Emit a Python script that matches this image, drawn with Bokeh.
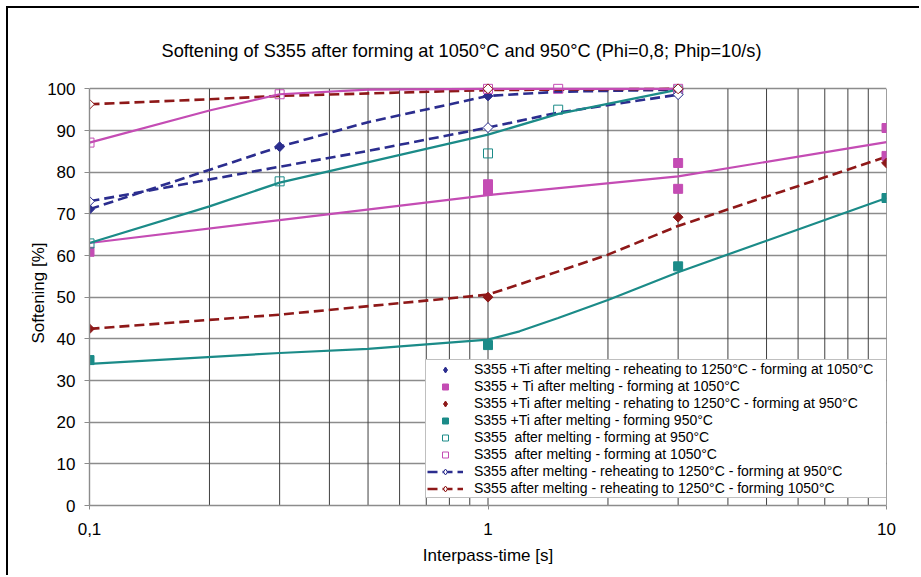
import math
from bokeh.plotting import figure
from bokeh.models import FixedTicker, Legend, LegendItem, Range1d, Title
from bokeh.embed import file_html
from bokeh.resources import INLINE

FONT = "Liberation Sans"

# ---------------- texts & ticks ----------------
title_text = "Softening of S355 after forming at 1050°C and 950°C (Phi=0,8; Phip=10/s)"
x_label = "Interpass-time [s]"
y_label = "Softening [%]"

x_major_ticks = [0.1, 1, 10]
x_major_labels = ["0,1", "1", "10"]
x_minor_ticks = [0.2, 0.3, 0.4, 0.5, 0.6, 0.7, 0.8, 0.9, 2, 3, 4, 5, 6, 7, 8, 9]
y_ticks = [0, 10, 20, 30, 40, 50, 60, 70, 80, 90, 100]

legend_labels = [
    "S355 +Ti after melting - reheating to 1250°C - forming at 1050°C",
    "S355 + Ti after melting - forming at 1050°C",
    "S355 +Ti after melting - rehating to 1250°C - forming at 950°C",
    "S355 +Ti after melting - forming 950°C",
    "S355  after melting - forming at 950°C",
    "S355  after melting - forming at 1050°C",
    "S355 after melting - reheating to 1250°C - forming at 950°C",
    "S355 after melting - reheating to 1250°C - forming 1050°C",
]

# ---------------- measured points ----------------
ti_reheat_1050_x = [0.1, 0.3, 1, 3]
ti_reheat_1050_y = [71.1, 86.1, 98.3, 99.8]
ti_1050_x = [0.1, 1, 1, 3, 3, 10, 10]
ti_1050_y = [60.9, 77.1, 75.6, 82.2, 76.0, 90.6, 83.9]
ti_reheat_950_x = [0.1, 1, 3, 10]
ti_reheat_950_y = [42.4, 50.0, 69.2, 82.2]
ti_950_x = [0.1, 1, 3, 10]
ti_950_y = [34.9, 38.5, 57.4, 73.8]
s_950_x = [0.1, 0.3, 1, 1.5, 3]
s_950_y = [62.9, 77.8, 84.5, 95.0, 99.6]
s_1050_x = [0.1, 0.3, 1, 1.5, 3]
s_1050_y = [87.1, 98.7, 100, 100, 100]
s_reheat_950_x = [0.1, 1, 3]
s_reheat_950_y = [73.0, 90.7, 98.6]
s_reheat_1050_x = [0.1, 1, 3]
s_reheat_1050_y = [96.3, 100, 100]

# ---------------- curves ----------------
c_ti_reheat_1050_x = [0.1, 0.3, 0.5, 1, 1.5, 3]
c_ti_reheat_1050_y = [71.1, 86.1, 92.0, 98.3, 99.3, 99.8]
c_ti_1050_x = [0.1, 0.3, 1, 3, 10]
c_ti_1050_y = [63.0, 68.5, 74.5, 79.0, 87.2]
c_ti_reheat_950_x = [0.1, 0.3, 1, 1.4, 2, 3, 10]
c_ti_reheat_950_y = [42.4, 45.8, 50.6, 55.2, 60.2, 67.1, 83.7]
c_ti_950_x = [0.1, 0.3, 0.5, 1, 1.2, 1.5, 2, 3, 10]
c_ti_950_y = [34.0, 36.6, 37.6, 39.8, 41.8, 45.0, 49.3, 56.0, 73.8]
c_s_950_x = [0.1, 0.2, 0.3, 1, 1.5, 3]
c_s_950_y = [63.0, 71.8, 77.5, 89.0, 94.0, 99.8]
c_s_1050_x = [0.1, 0.2, 0.3, 0.5, 1, 1.5, 3]
c_s_1050_y = [87.1, 94.8, 98.7, 99.8, 100, 100, 100]
c_s_reheat_950_x = [0.1, 0.3, 0.5, 1, 1.5, 3]
c_s_reheat_950_y = [73.0, 81.3, 85.1, 90.7, 94.3, 98.6]
c_s_reheat_1050_x = [0.1, 0.2, 0.3, 1, 3]
c_s_reheat_1050_y = [96.3, 97.5, 98.3, 99.7, 100]

NAVY = "#2b2d8e"
PINK = "#c44cb4"
TEAL = "#1b8b88"
RED = "#8e1818"
DIAMOND = math.pi / 4

p = figure(width=913, height=569, x_axis_type="log",
           x_range=Range1d(0.1, 10), y_range=Range1d(0, 102),
           output_backend="svg", toolbar_location=None,
           min_border_left=81, min_border_right=35,
           min_border_top=72, min_border_bottom=72)
p.styles = {"margin-left": "8px", "margin-top": "8px", "box-shadow": "-2px -2px 0 0 #000"}
p.background_fill_color = "white"
p.border_fill_color = "white"
p.outline_line_color = None

p.title = Title(text=title_text, align="left", offset=72, standoff=40,
                text_font=FONT, text_font_size="18.2px", text_font_style="normal",
                text_color="black")

# grid
p.xgrid.grid_line_color = None
p.ygrid.ticker = FixedTicker(ticks=y_ticks)
p.ygrid.grid_line_color = "#8c8c8c"
p.ygrid.grid_line_width = 1.4
grid_x = x_minor_ticks + x_major_ticks[1:]
p.segment(x0=grid_x, y0=[y_ticks[0]] * len(grid_x), x1=grid_x, y1=[y_ticks[-1]] * len(grid_x),
          line_color="#404040", line_width=1)

# axes
p.xaxis.ticker = FixedTicker(ticks=x_major_ticks, minor_ticks=[])
p.xaxis.major_label_overrides = dict(zip(x_major_ticks, x_major_labels))
p.yaxis.ticker = FixedTicker(ticks=y_ticks, minor_ticks=[])
p.yaxis.bounds = (y_ticks[0], y_ticks[-1])
for ax in (p.xaxis[0], p.yaxis[0]):
    ax.axis_line_color = "#8c8c8c"
    ax.axis_line_width = 1.4
    ax.major_tick_line_color = "#8c8c8c"
    ax.major_tick_in = 0
    ax.minor_tick_out = 0
    ax.minor_tick_in = 0
    ax.major_label_text_font = FONT
    ax.major_label_text_font_size = "17px"
    ax.major_label_text_color = "black"
    ax.axis_label_text_font = FONT
    ax.axis_label_text_font_size = "17px"
    ax.axis_label_text_font_style = "normal"
    ax.axis_label_text_color = "black"
p.xaxis.major_tick_out = 4
p.xaxis.major_label_standoff = 13
p.xaxis.axis_label = x_label
p.xaxis.axis_label_standoff = 8
p.yaxis.major_tick_out = 5
p.yaxis.major_label_standoff = 9
p.yaxis.axis_label = y_label
p.yaxis.axis_label_standoff = -4

# curves
l_ti_reheat_1050 = p.line(c_ti_reheat_1050_x, c_ti_reheat_1050_y, line_color=NAVY, line_width=2.6, line_dash="10 5")
l_s_reheat_950 = p.line(c_s_reheat_950_x, c_s_reheat_950_y, line_color=NAVY, line_width=2.6, line_dash="10 5")
l_s_reheat_1050 = p.line(c_s_reheat_1050_x, c_s_reheat_1050_y, line_color=RED, line_width=2.6, line_dash="10 5")
l_ti_reheat_950 = p.line(c_ti_reheat_950_x, c_ti_reheat_950_y, line_color=RED, line_width=2.6, line_dash="10 5")
p.line(c_ti_1050_x, c_ti_1050_y, line_color=PINK, line_width=2.2)
p.line(c_s_1050_x, c_s_1050_y, line_color=PINK, line_width=2.2)
p.line(c_s_950_x, c_s_950_y, line_color=TEAL, line_width=2.2)
p.line(c_ti_950_x, c_ti_950_y, line_color=TEAL, line_width=2.2)

# markers
m1 = p.scatter(ti_reheat_1050_x, ti_reheat_1050_y, marker="square", angle=DIAMOND, size=7,
               fill_color=NAVY, line_color=NAVY)
m2 = p.scatter(ti_1050_x, ti_1050_y, marker="square", size=9, fill_color=PINK, line_color=PINK)
m3 = p.scatter(ti_reheat_950_x, ti_reheat_950_y, marker="square", angle=DIAMOND, size=7,
               fill_color=RED, line_color=RED)
m4 = p.scatter(ti_950_x, ti_950_y, marker="square", size=9, fill_color=TEAL, line_color=TEAL)
m5 = p.scatter(s_950_x, s_950_y, marker="square", size=9, fill_color=None, line_color=TEAL, line_width=1)
m6 = p.scatter(s_1050_x, s_1050_y, marker="square", size=9, fill_color=None, line_color=PINK, line_width=1)
m7 = p.scatter(s_reheat_950_x, s_reheat_950_y, marker="square", angle=DIAMOND, size=7,
               fill_color="white", line_color=NAVY, line_width=1)
m8 = p.scatter(s_reheat_1050_x, s_reheat_1050_y, marker="square", angle=DIAMOND, size=7,
               fill_color="white", line_color=RED, line_width=1)

# legend symbols for the diamond series (same data, shown only in the legend)
g1 = p.scatter(ti_reheat_1050_x, ti_reheat_1050_y, marker="diamond", size=11,
               fill_color=NAVY, line_color=NAVY, visible=False)
g3 = p.scatter(ti_reheat_950_x, ti_reheat_950_y, marker="diamond", size=11,
               fill_color=RED, line_color=RED, visible=False)
g7 = p.scatter(s_reheat_950_x, s_reheat_950_y, marker="diamond", size=11,
               fill_color="white", line_color=NAVY, line_width=1, visible=False)
g8 = p.scatter(s_reheat_1050_x, s_reheat_1050_y, marker="diamond", size=11,
               fill_color="white", line_color=RED, line_width=1, visible=False)

items = [
    LegendItem(label=legend_labels[0], renderers=[g1]),
    LegendItem(label=legend_labels[1], renderers=[m2]),
    LegendItem(label=legend_labels[2], renderers=[g3]),
    LegendItem(label=legend_labels[3], renderers=[m4]),
    LegendItem(label=legend_labels[4], renderers=[m5]),
    LegendItem(label=legend_labels[5], renderers=[m6]),
    LegendItem(label=legend_labels[6], renderers=[l_s_reheat_950, g7]),
    LegendItem(label=legend_labels[7], renderers=[l_s_reheat_1050, g8]),
]
legend = Legend(items=items, location=(336, 7), padding=1, margin=0,
                spacing=1, glyph_height=15, label_height=15, glyph_width=36,
                label_standoff=11, label_width=413, click_policy="none",
                label_text_font=FONT, label_text_font_size="14px", label_text_color="black",
                border_line_color="#808080", border_line_width=1,
                background_fill_color="white", background_fill_alpha=1)
p.add_layout(legend, "center")

open("out.html", "w").write(file_html(p, INLINE))
